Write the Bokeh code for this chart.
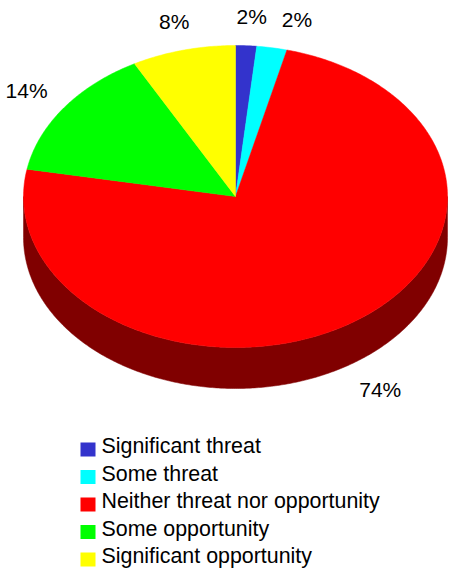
import math
from bokeh.plotting import figure
from bokeh.models import Range1d, ColumnDataSource
from bokeh.core.properties import value
from bokeh.embed import file_html
from bokeh.resources import INLINE

# ---- data ----
categories = ["Significant threat", "Some threat", "Neither threat nor opportunity",
              "Some opportunity", "Significant opportunity"]
shares = [1.6, 2.3, 74.0, 14.2, 7.9]
colors = ["#3333CC", "#00FFFF", "#FF0000", "#00FF00", "#FFFF00"]
side_colors = ["#1A1A66", "#008080", "#800000", "#008000", "#808000"]

# ---- layout ----
W, H = 449, 570
CX, CY = 235.0, 196.0
RX, RY = 212.0, 151.0
DEPTH = 41.0
FONT = "Liberation Sans"

p = figure(width=W, height=H, output_backend="svg", toolbar_location=None,
           x_range=Range1d(0, W), y_range=Range1d(H, 0),
           x_axis_location=None, y_axis_location=None, min_border=0)
p.grid.visible = False
p.outline_line_color = None
p.background_fill_color = "white"
p.border_fill_color = "white"


def pt(theta, dy=0.0):
    return CX + RX * math.sin(theta), CY - RY * math.cos(theta) + dy


total = sum(shares)
angles = []
acc = 0.0
for s in shares:
    a0 = acc / total * 2 * math.pi
    acc += s
    a1 = acc / total * 2 * math.pi
    angles.append((a0, a1))

# side walls (front half only: theta in [pi/2, 3pi/2])
side_xs, side_ys, side_c = [], [], []
for (a0, a1), sc in zip(angles, side_colors):
    s = max(a0, math.pi / 2)
    e = min(a1, 3 * math.pi / 2)
    if e <= s:
        continue
    n = max(4, int((e - s) / 0.01))
    top = [pt(s + (e - s) * k / n) for k in range(n + 1)]
    bot = [pt(s + (e - s) * k / n, DEPTH) for k in range(n, -1, -1)]
    poly = top + bot
    side_xs.append([q[0] for q in poly])
    side_ys.append([q[1] for q in poly])
    side_c.append(sc)
p.patches(xs=side_xs, ys=side_ys, fill_color=side_c, line_color=side_c, line_width=0.5)

# top faces
top_xs, top_ys = [], []
for (a0, a1) in angles:
    n = max(4, int((a1 - a0) / 0.01))
    poly = [(CX, CY)] + [pt(a0 + (a1 - a0) * k / n) for k in range(n + 1)]
    top_xs.append([q[0] for q in poly])
    top_ys.append([q[1] for q in poly])
p.patches(xs=top_xs, ys=top_ys, fill_color=colors, line_color=colors, line_width=0.5)

# percentage labels
FS = 21.0
def text_w(t):
    w = 0.0
    for ch in t:
        w += 0.889 if ch == "%" else 0.556
    return w * FS

labels = []
for (a0, a1), s in zip(angles, shares):
    m = (a0 + a1) / 2
    front = math.cos(m) < 0
    ex, ey = pt(m, DEPTH if front else 0.0)
    lx = ex + 50 * math.sin(m) + 3.0
    ly = ey - 27.5 * math.cos(m) + (2.0 if front else -1.5)
    txt = f"{round(s / total * 100)}%"
    labels.append([lx, ly, txt])

# simple collision avoidance: push right labels that overlap in the same row
order = sorted(range(len(labels)), key=lambda i: labels[i][0])
for ii in range(1, len(order)):
    i = order[ii]
    for jj in range(ii):
        j = order[jj]
        if abs(labels[i][1] - labels[j][1]) < FS:
            right_j = labels[j][0] + text_w(labels[j][2]) / 2
            left_i = labels[i][0] - text_w(labels[i][2]) / 2
            if left_i < right_j + 15:
                labels[i][0] += right_j + 15 - left_i

src = ColumnDataSource(dict(x=[l[0] for l in labels], y=[l[1] for l in labels],
                            t=[l[2] for l in labels]))
p.text(x="x", y="y", text="t", source=src, text_align="center", text_baseline="middle",
       text_font=value(FONT), text_font_size=f"{FS}px", text_color="#000000")

# legend
LX, LY0, LSTEP = 87.5, 449.0, 27.5
ly = [LY0 + i * LSTEP for i in range(len(categories))]
p.rect(x=[LX] * len(categories), y=ly, width=15, height=14, fill_color=colors,
       line_color=None)
p.text(x=[LX + 13.5] * len(categories), y=[v - 3.5 for v in ly], text=categories,
       text_align="left", text_baseline="middle", text_font=value(FONT),
       text_font_size="21.4px", text_color="#000000")

open("out.html", "w").write(file_html(p, INLINE))
